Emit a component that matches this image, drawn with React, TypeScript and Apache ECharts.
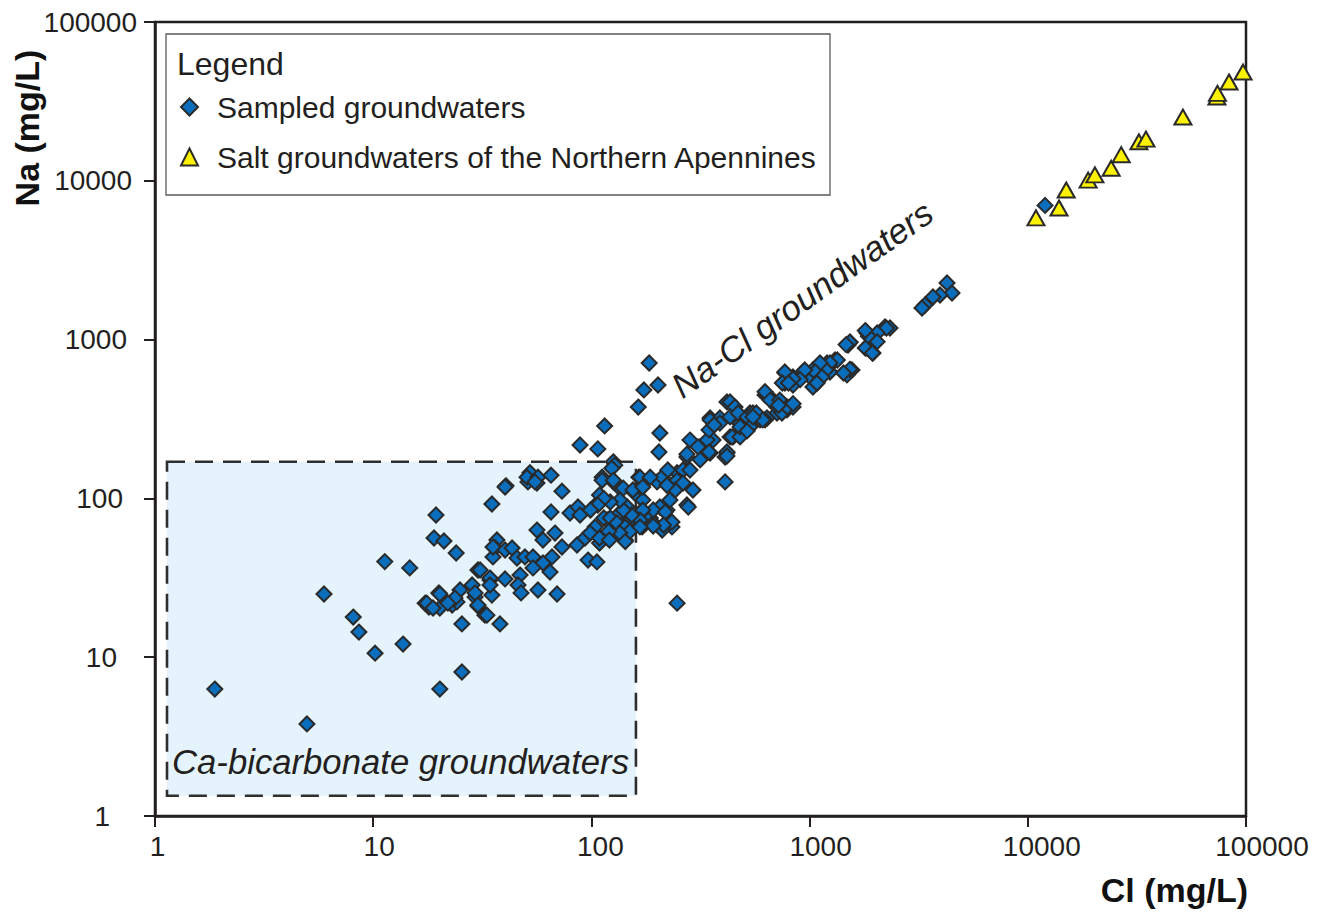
import React, { useEffect, useRef } from "react";
import * as echarts from "echarts";

// Cl (mg/L), Na (mg/L)
const sampledGroundwaters: [number, number][] = [
  [1.88, 6.3], [4.97, 3.8], [5.95, 25], [8.1, 17.9], [8.6, 14.4], [10.2, 10.6], [13.7, 12.1],
  [11.3, 40], [14.7, 36.5], [19.4, 78.6], [19.0, 56.3], [21.1, 53.9], [24.0, 45.3], [35.0, 92.2],
  [36.9, 54.7], [36.2, 48.7], [35.4, 42.8], [30.2, 35.4], [34.3, 30.6], [28.4, 28.5], [25.0, 26.5],
  [20.0, 25.4], [17.3, 21.9], [18.0, 20.7], [20.2, 20.4], [23.0, 21.3], [24.2, 22.3], [29.3, 23.9],
  [30.2, 21.0], [32.5, 18.4], [35.0, 24.6], [25.5, 16.2], [25.5, 8.07], [20.2, 6.3], [40.6, 120],
  [73.3, 111], [51.2, 127], [56.3, 125], [65.3, 82.1], [79.8, 80.9], [86.8, 88.3], [88.7, 78.6],
  [108, 94.9], [109, 105], [126, 127], [35.4, 49.4], [40.2, 47.3], [43.3, 48.7], [45.6, 42.1],
  [49.6, 42.8], [54.0, 42.8], [56.3, 63.2], [60.0, 54.7], [68.1, 60.5], [73.3, 49.4], [66.0, 42.8],
  [60.0, 39.2], [64.6, 34.4], [54.0, 36.5], [47.1, 32.9], [46.1, 28.5], [47.6, 25.4], [56.9, 26.5],
  [69.6, 25.0], [40.2, 31.1], [34.3, 31.5], [34.3, 28.5], [30.9, 35.4], [29.3, 25.4], [23.7, 23.6],
  [20.2, 25.0], [17.6, 21.9], [18.8, 20.4], [22.0, 21.9], [30.2, 21.3], [33.2, 18.4], [38.1, 16.2],
  [85.9, 50.9], [93.5, 56.3], [96.5, 40.9], [106, 39.8], [109, 52.4], [119, 56.3], [118, 73.1],
  [135, 80.9], [146, 88.3], [143, 54.7], [155, 73.1], [167, 80.9], [172, 97.7], [158, 108],
  [135, 116], [184, 712], [174, 482], [202, 518], [164, 376], [115, 286], [206, 258], [204, 196],
  [88.7, 217], [107, 205], [126, 170], [128, 162], [52.3, 145], [50.7, 136], [56.9, 136], [55.1, 127],
  [65.3, 140], [40.2, 118], [112, 136], [128, 127], [140, 116], [165, 136], [167, 118], [200, 127],
  [211, 136], [234, 121], [247, 145], [263, 151], [274, 182], [283, 233], [315, 211], [350, 193],
  [255, 127], [292, 113], [274, 90.9], [222, 84.5], [186, 75.3], [171, 66.1], [234, 66.1], [211, 63.2],
  [192, 70.0], [146, 70.0], [140, 56.3], [247, 21.9], [410, 127], [410, 182], [361, 233], [432, 244],
  [418, 405], [350, 321], [388, 321], [446, 326], [480, 298], [533, 345], [593, 321], [625, 448],
  [680, 416], [709, 345], [517, 270], [446, 244], [638, 321], [4264, 2272], [4494, 1966], [3960, 1910],
  [3677, 1855], [3380, 1652], [3275, 1581], [2336, 1183], [2216, 1200], [1833, 1100], [1952, 994],
  [1833, 885], [1952, 823], [1532, 966], [1500, 925], [1564, 644], [1484, 599], [1308, 744], [1202, 712],
  [1240, 625], [1116, 672], [1036, 644], [1004, 582], [1081, 533], [1036, 503], [933, 625], [839, 582],
  [771, 616], [771, 533], [839, 518], [638, 448], [673, 416], [732, 405], [709, 376], [788, 361],
  [839, 376], [747, 345], [432, 405], [455, 376], [350, 312], [388, 298], [432, 326], [470, 345],
  [517, 326], [550, 345], [580, 321], [625, 312], [533, 282], [495, 270], [441, 244], [480, 244],
  [339, 233], [418, 193], [124, 155], [112, 130], [126, 130], [155, 113], [167, 136], [172, 118],
  [186, 136], [224, 151], [247, 130], [242, 113], [222, 121], [308, 211], [346, 196], [274, 190],
  [283, 151], [263, 125], [315, 175], [346, 270], [365, 290], [480, 282], [517, 266], [593, 312],
  [418, 196], [418, 185], [278, 88.3], [229, 97.7], [206, 88.3], [192, 84.5], [218, 82.1], [234, 71.0],
  [214, 68.0], [192, 67], [172, 84.5], [167, 73.1], [153, 78.6], [140, 84.5], [135, 97.7], [122, 94.9],
  [114, 100], [107, 90.9], [99, 84.5], [114, 75.3], [122, 75.3], [131, 70.0], [143, 66.1], [150, 62],
  [135, 60.5], [120, 62], [104, 66.1], [98.6, 60.5], [109, 56.3], [121, 54.7], [167, 66.1], [143, 53.5],
  [2250, 1180], [2040, 1100], [1860, 1050], [1800, 1140], [2040, 970], [1800, 885], [1940, 823],
  [1530, 960], [1470, 930], [1530, 650], [1430, 616], [1340, 744], [1240, 712], [1190, 644], [1116, 712],
  [1060, 625], [1140, 582], [1080, 533], [950, 644], [905, 560], [839, 567], [770, 625], [750, 533],
  [800, 533], [625, 470], [660, 416], [730, 416], [790, 376], [840, 395], [720, 386], [570, 345],
  [610, 312], [550, 326], [12000, 7000],
];

const saltGroundwaters: [number, number][] = [
  [10900, 5840], [13900, 6740], [15000, 8750], [18900, 10100], [20300, 10900], [24100, 12000],
  [26800, 14600], [32300, 17600], [34800, 18300], [51400, 25200], [73600, 33700], [74000, 35500],
  [83600, 41900], [96900, 48400],
];

const caBicarbonateBox: [[number, number], [number, number]] = [[1.135, 170], [160, 1.34]];

const xTicks = [1, 10, 100, 1000, 10000, 100000];
const yTicks = [1, 10, 100, 1000, 10000, 100000];

const seriesNames = ["Sampled groundwaters", "Salt groundwaters of the Northern Apennines"];

const FONT = "'Liberation Sans', Arial, Helvetica, sans-serif";
const DARK = "#231f20";

// per-label offsets that mimic the original figure's label placement
const xLabelPadLeft = [5, 12, 18, 22, 28, 32];
const yLabelPadRight = [27, 20, 14, 10, 5, 0];

export default function App() {
  const ref = useRef<HTMLDivElement>(null);

  useEffect(() => {
    document.body.style.margin = "0";
    document.body.style.overflow = "hidden";
    if (!ref.current) return;
    const chart = echarts.init(ref.current, undefined, { renderer: "svg" });

    const labelBase = { color: DARK, fontSize: 28, fontFamily: FONT };
    const xRich: Record<string, any> = {};
    const yRich: Record<string, any> = {};
    xTicks.forEach((_, i) => {
      xRich["x" + i] = { ...labelBase, padding: [0, 0, 0, xLabelPadLeft[i]] };
    });
    yTicks.forEach((_, i) => {
      yRich["y" + i] = { ...labelBase, padding: [0, yLabelPadRight[i], 0, 0] };
    });
    const idxOf = (ticks: number[], v: number) => {
      let best = 0;
      ticks.forEach((t, i) => {
        if (Math.abs(Math.log10(t) - Math.log10(v)) < Math.abs(Math.log10(ticks[best]) - Math.log10(v))) best = i;
      });
      return best;
    };

    const axisCommon = {
      type: "log" as const,
      logBase: 10,
      splitLine: { show: false },
      minorTick: { show: false },
      axisLine: { show: true, lineStyle: { color: DARK, width: 2.5 } },
      axisTick: { show: true, inside: false, length: 11, lineStyle: { color: DARK, width: 2 } },
    };

    chart.setOption({
      animation: false,
      backgroundColor: "#ffffff",
      grid: {
        left: 155,
        right: 80,
        top: 22,
        bottom: 97,
        show: true,
        borderColor: DARK,
        borderWidth: 2.5,
        backgroundColor: "transparent",
      },
      xAxis: {
        ...axisCommon,
        min: xTicks[0],
        max: xTicks[xTicks.length - 1],
        axisLabel: {
          ...labelBase,
          margin: 16,
          rich: xRich,
          formatter: (v: number) => {
            const i = idxOf(xTicks, v);
            return `{x${i}|${xTicks[i]}}`;
          },
        },
      },
      yAxis: {
        ...axisCommon,
        min: yTicks[0],
        max: yTicks[yTicks.length - 1],
        axisLabel: {
          ...labelBase,
          margin: 18,
          rich: yRich,
          formatter: (v: number) => {
            const i = idxOf(yTicks, v);
            return `{y${i}|${yTicks[i]}}`;
          },
        },
      },
      legend: {
        data: seriesNames,
        orient: "vertical",
        left: 180,
        top: 92,
        padding: 0,
        itemGap: 20,
        itemWidth: 17,
        itemHeight: 17,
        textStyle: { fontSize: 30, lineHeight: 30, color: DARK, fontFamily: FONT, padding: [0, 0, 0, 14] },
        selectedMode: false,
        z: 10,
      },
      graphic: [
        {
          type: "rect",
          shape: { x: 166, y: 34, width: 664, height: 161 },
          style: { fill: "#ffffff", stroke: "#5a5a5a", lineWidth: 1.3 },
          z: 5,
        },
        {
          type: "text",
          x: 177,
          y: 64,
          style: {
            text: "Legend",
            fontSize: 32,
            fontFamily: FONT,
            fill: DARK,
            textAlign: "left",
            textVerticalAlign: "middle",
          },
          z: 6,
        },
        {
          type: "text",
          x: 802,
          y: 299,
          rotation: 0.62,
          style: {
            text: "Na-Cl groundwaters",
            fontSize: 35,
            fontStyle: "italic",
            fontFamily: FONT,
            fill: DARK,
            textAlign: "center",
            textVerticalAlign: "middle",
          },
          z: 6,
        },
        {
          type: "text",
          x: 172,
          y: 762,
          style: {
            text: "Ca-bicarbonate groundwaters",
            fontSize: 34.7,
            fontStyle: "italic",
            fontFamily: FONT,
            fill: DARK,
            textAlign: "left",
            textVerticalAlign: "middle",
          },
          z: 6,
        },
        {
          type: "text",
          x: 1248,
          y: 890,
          style: {
            text: "Cl (mg/L)",
            fontSize: 34,
            fontWeight: "bold",
            fontFamily: FONT,
            fill: "#111",
            textAlign: "right",
            textVerticalAlign: "middle",
          },
          z: 6,
        },
        {
          type: "text",
          x: 27,
          y: 128,
          rotation: Math.PI / 2,
          style: {
            text: "Na (mg/L)",
            fontSize: 34,
            fontWeight: "bold",
            fontFamily: FONT,
            fill: "#111",
            textAlign: "center",
            textVerticalAlign: "middle",
          },
          z: 6,
        },
      ],
      series: [
        {
          name: "box",
          type: "scatter",
          data: [],
          z: 1,
          silent: true,
          markArea: {
            silent: true,
            z: 1,
            itemStyle: {
              color: "#e5f4fc",
              borderColor: "#2e2e2e",
              borderWidth: 2.6,
              borderType: [18, 10],
            },
            label: { show: false },
            data: [[{ coord: caBicarbonateBox[0] }, { coord: caBicarbonateBox[1] }]],
          },
        },
        {
          name: seriesNames[0],
          type: "scatter",
          symbol: "diamond",
          symbolSize: 15,
          z: 3,
          itemStyle: { color: "#0a6ebd", borderColor: "#2a2a2a", borderWidth: 2, opacity: 1 },
          data: sampledGroundwaters,
        },
        {
          name: seriesNames[1],
          type: "scatter",
          symbol: "triangle",
          symbolSize: [17, 15],
          z: 4,
          itemStyle: { color: "#fff200", borderColor: "#2a2a2a", borderWidth: 2, opacity: 1 },
          data: saltGroundwaters,
        },
      ],
    });

    return () => chart.dispose();
  }, []);

  return <div ref={ref} style={{ width: 1326, height: 913 }} />;
}
